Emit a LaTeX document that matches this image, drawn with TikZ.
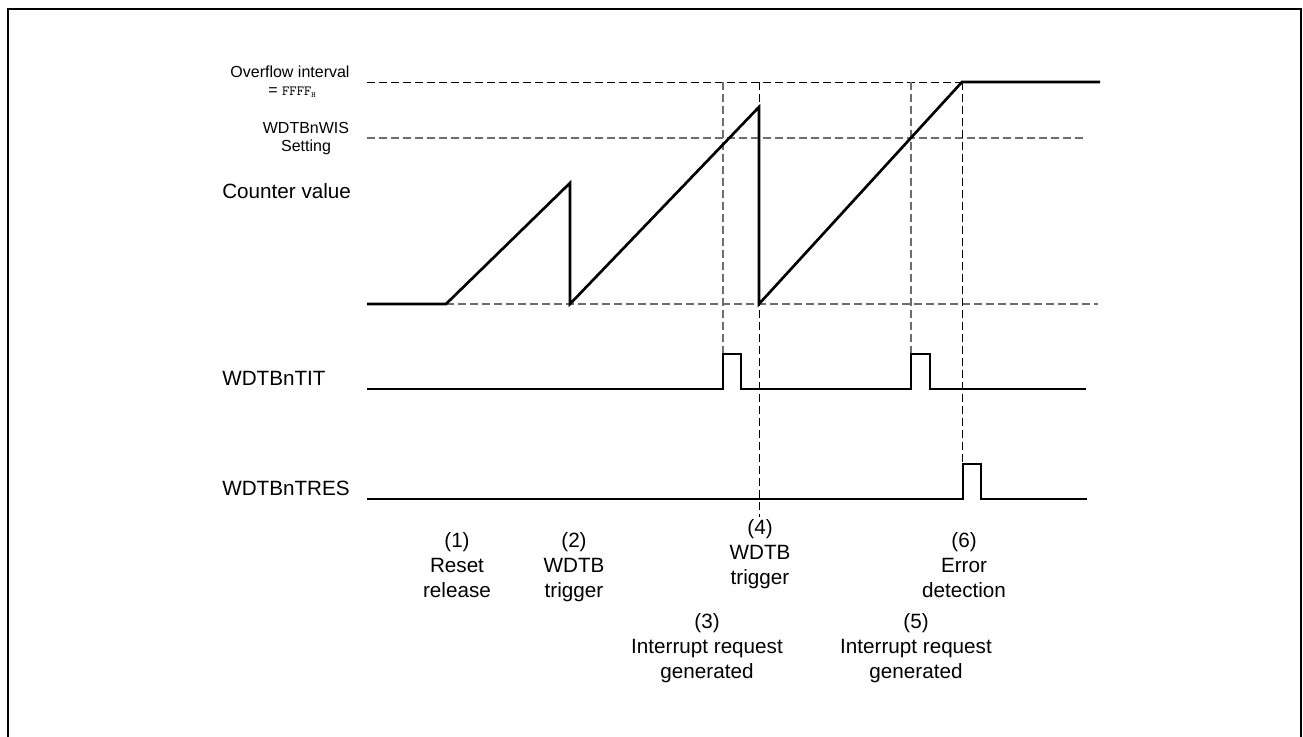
\documentclass[tikz,border=0pt]{standalone}
\usepackage{fontspec}
\setmainfont{Liberation Sans}
\usepackage{tikz}
\usetikzlibrary{positioning}
\definecolor{guidegray}{RGB}{110,110,110}

\begin{document}
\begin{tikzpicture}[x=0.75pt, y=-0.75pt,
    font=\fontsize{15.5}{18.75}\selectfont,
    signal/.style={line width=2pt, line join=miter},
    guide/.style={guidegray, line width=0.9pt, dash pattern=on 6pt off 3pt},
    marker/.style={black, line width=0.7pt, dash pattern=on 6pt off 3pt},
    signame/.style={anchor=base west, inner sep=0pt},
    small/.style={anchor=base, inner sep=0pt, font=\fontsize{12}{14}\selectfont},
    event/.style={anchor=north, align=center, inner sep=0pt}]
  \useasboundingbox (0,0) rectangle (1303,736);
  \draw[line width=1.5pt] (8,745) -- (8,9) -- (1301,9) -- (1301,745);

  % level guides
  \draw[marker] (367,82) -- (962,82);
  \draw[guide] (367,138) -- (1085,138);
  \draw[guide] (446,304) -- (1098,304);
  \foreach \x/\ybot/\sty in {723/354/guide, 911/354/guide, 759/517/marker, 962/464/marker}
    \draw[\sty] (\x,82) -- (\x,\ybot);

  % counter value
  \draw[signal] (367,304) -- (446,304) -- (570,183) -- (570,304)
    -- (759,107) -- (759,304) -- (962,82) -- (1100,82);
  % WDTBnTIT
  \draw[signal] (367,389) -- (723,389) -- (723,354) -- (741,354) -- (741,389)
    -- (911,389) -- (911,354) -- (930,354) -- (930,389) -- (1086,389);
  % WDTBnTRES
  \draw[signal] (367,499) -- (963,499) -- (963,464) -- (981,464) -- (981,499)
    -- (1087,499);

  \node[small] (ovf) at (290,77) {Overflow interval};
  \node[small] (ovfval) at (292,95) {= {\ttfamily\fontsize{10.5}{12}\selectfont FFFF\raisebox{-1.5pt}{\fontsize{6}{6}\selectfont H}}};
  \node[small] (wis) at (306,133) {WDTBnWIS};
  \node[small] (wisset) at (306,151) {Setting};

  \node[signame] (cnt) at (222,198) {Counter value};
  \node[signame] (tit) at (222,385) {WDTBnTIT};
  \node[signame] (tres) at (222,495) {WDTBnTRES};

  \foreach \i/\x/\y/\txt in {1/457/532/{(1)\\Reset\\release},
                             2/574/532/{(2)\\WDTB\\trigger},
                             4/760/519/{(4)\\WDTB\\trigger},
                             6/964/532/{(6)\\Error\\detection},
                             3/707/613/{(3)\\Interrupt request\\generated},
                             5/916/613/{(5)\\Interrupt request\\generated}}
    \node[event] (ev\i) at (\x,\y) {\txt};
\end{tikzpicture}
\end{document}
